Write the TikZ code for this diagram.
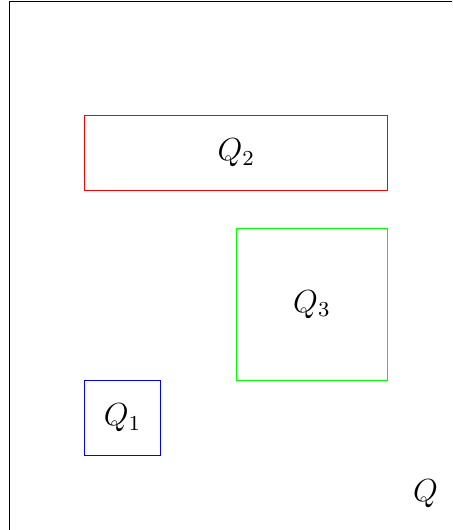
\documentclass[tikz,border=0pt]{standalone}
\usepackage{amsmath,amssymb}
\usepackage{xcolor}
\usepackage{tikz}

\begin{document}
\begin{tikzpicture}[every node/.style={font=\large}]
    \clip (-1.12,-0.98) rectangle (4.85,6.02);
    \draw (-1,-1) rectangle (5,6);
    \node (q) at (4.5,-0.5) {$Q$};
    \draw[blue] (0,0) rectangle (1,1);
    \node (q1) at (0.5,0.5) {$Q_1$};
    \draw[red] (0,3.5) rectangle (4,4.5);
    \node (q2) at (2,4) {$Q_2$};
    \draw[green] (2,1) rectangle (4,3);
    \node (q3) at (3,2) {$Q_3$};
\end{tikzpicture}
\end{document}
